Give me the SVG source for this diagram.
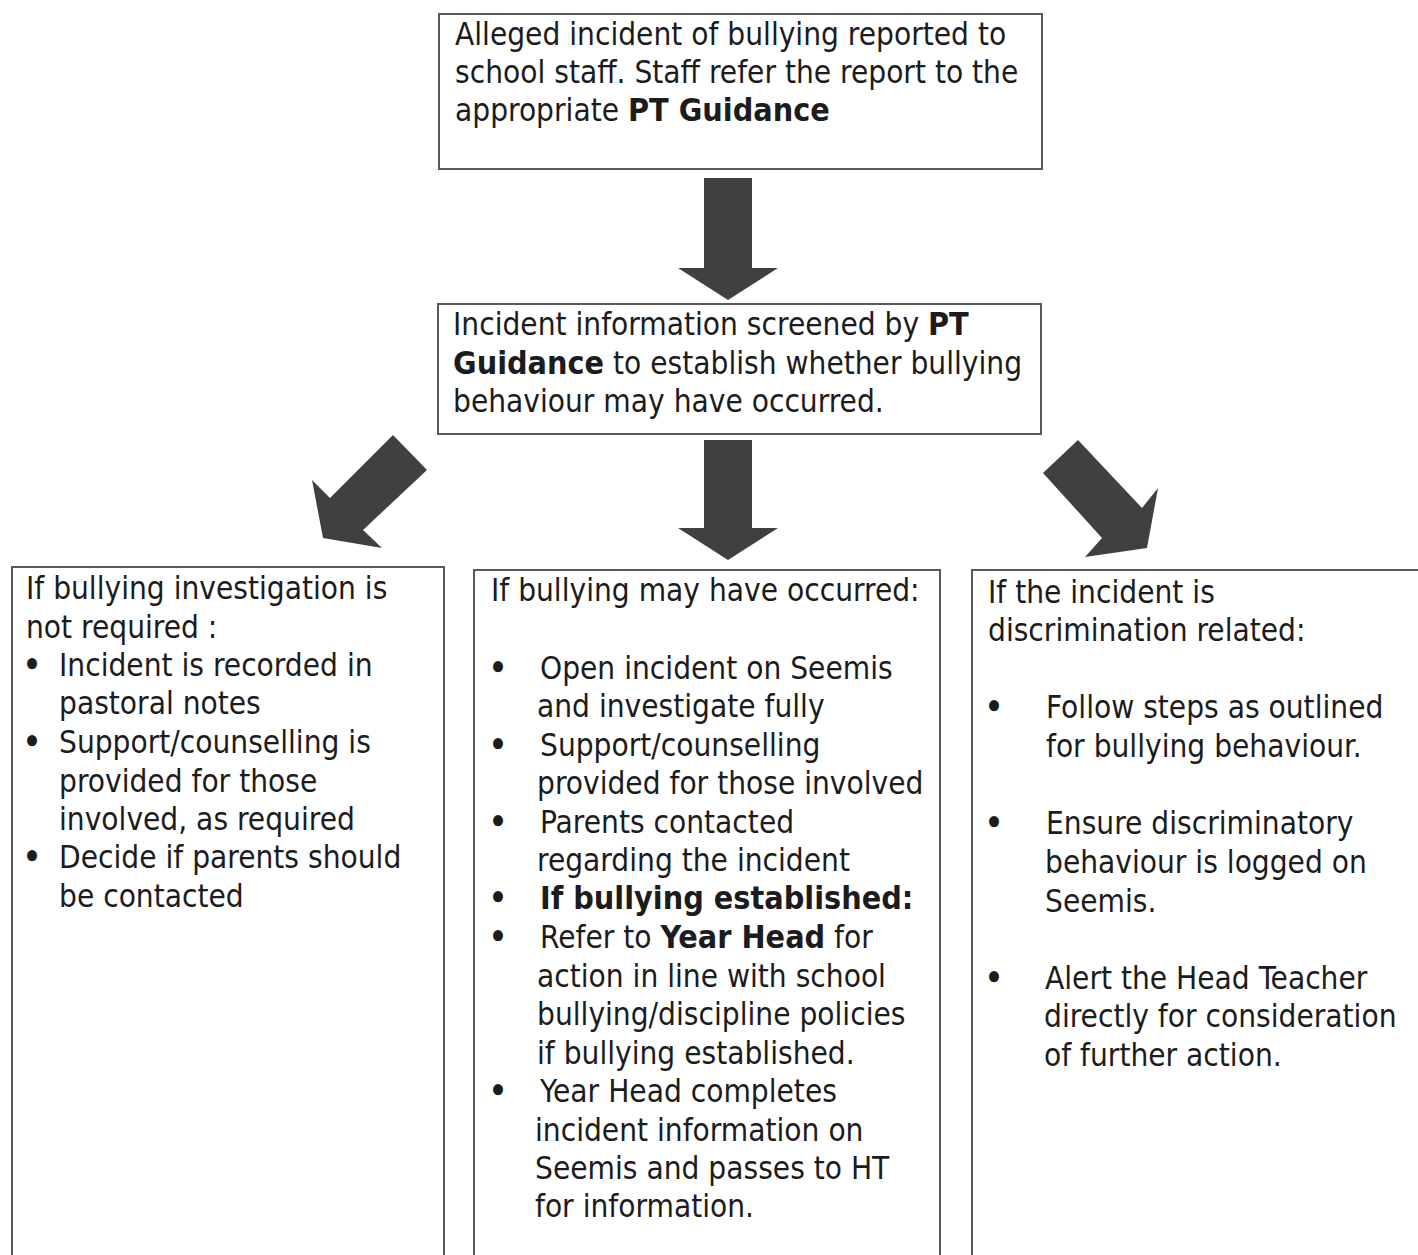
<svg xmlns="http://www.w3.org/2000/svg" width="1418" height="1255" viewBox="0 0 1418 1255">
<style>
.box{fill:#fff;stroke:#5a5a5a;stroke-width:2}
.arr{fill:#404040}
text{font-family:"DejaVu Sans Condensed","DejaVu Sans",sans-serif;font-size:31.3px;fill:#1c1c1c}
.b{font-weight:bold;font-size:32px}
.d{font-weight:bold}
</style>
<rect width="1418" height="1255" fill="#fff"/>
<g id="connectors">
<polygon class="arr" points="704,178 752,178 752,268 778,268 728,300 678,268 704,268"/>
<polygon class="arr" points="704,440 752,440 752,528 778,528 728,560 678,528 704,528"/>
<polygon class="arr" points="393,435 427,470 363,530 382,548 323,538 312,480 330,498"/>
<polygon class="arr" points="1078,440 1142,508 1158,488 1147,548 1085,557 1102,538 1043,473"/>
</g>
<g id="node-report">
<rect class="box" x="439" y="14" width="603" height="155"/>
<text x="455" y="45">Alleged incident of bullying reported to</text>
<text x="455" y="83">school staff. Staff refer the report to the</text>
<text x="455" y="121">appropriate <tspan class="b">PT Guidance</tspan></text>
</g>
<g id="node-screen">
<rect class="box" x="438" y="304" width="603" height="130"/>
<text x="453" y="335">Incident information screened by <tspan class="b">PT</tspan></text>
<text x="453" y="374"><tspan class="b">Guidance</tspan> to establish whether bullying</text>
<text x="453" y="412">behaviour may have occurred.</text>
</g>
<g id="node-not-required">
<rect class="box" x="12" y="567" width="432" height="700"/>
<text x="26" y="599">If bullying investigation is</text>
<text x="26" y="638">not required :</text>
<text class="d" x="23" y="676">•</text><text x="59" y="676">Incident is recorded in</text>
<text x="59" y="714">pastoral notes</text>
<text class="d" x="23" y="753">•</text><text x="59" y="753">Support/counselling is</text>
<text x="59" y="792">provided for those</text>
<text x="59" y="830">involved, as required</text>
<text class="d" x="23" y="868">•</text><text x="59" y="868">Decide if parents should</text>
<text x="59" y="907">be contacted</text>
</g>
<g id="node-may-have-occurred">
<rect class="box" x="474" y="570" width="466" height="700"/>
<text x="491" y="601">If bullying may have occurred:</text>
<text class="d" x="489" y="679">•</text><text x="540" y="679">Open incident on Seemis</text>
<text x="537" y="717">and investigate fully</text>
<text class="d" x="489" y="756">•</text><text x="540" y="756">Support/counselling</text>
<text x="537" y="794">provided for those involved</text>
<text class="d" x="489" y="833">•</text><text x="540" y="833">Parents contacted</text>
<text x="537" y="871">regarding the incident</text>
<text class="d" x="489" y="909">•</text><text x="540" y="909" class="b">If bullying established:</text>
<text class="d" x="489" y="948">•</text><text x="540" y="948">Refer to <tspan class="b">Year Head</tspan> for</text>
<text x="537" y="987">action in line with school</text>
<text x="537" y="1025">bullying/discipline policies</text>
<text x="537" y="1064">if bullying established.</text>
<text class="d" x="489" y="1102">•</text><text x="540" y="1102">Year Head completes</text>
<text x="535" y="1141">incident information on</text>
<text x="535" y="1179">Seemis and passes to HT</text>
<text x="535" y="1217">for information.</text>
</g>
<g id="node-discrimination">
<rect class="box" x="972" y="570" width="460" height="700"/>
<text x="988" y="603">If the incident is</text>
<text x="988" y="641">discrimination related:</text>
<text class="d" x="985" y="718">•</text><text x="1046" y="718">Follow steps as outlined</text>
<text x="1046" y="757">for bullying behaviour.</text>
<text class="d" x="985" y="834">•</text><text x="1046" y="834">Ensure discriminatory</text>
<text x="1045" y="873">behaviour is logged on</text>
<text x="1045" y="912">Seemis.</text>
<text class="d" x="985" y="989">•</text><text x="1045" y="989">Alert the Head Teacher</text>
<text x="1044" y="1027">directly for consideration</text>
<text x="1044" y="1066">of further action.</text>
</g>
</svg>
